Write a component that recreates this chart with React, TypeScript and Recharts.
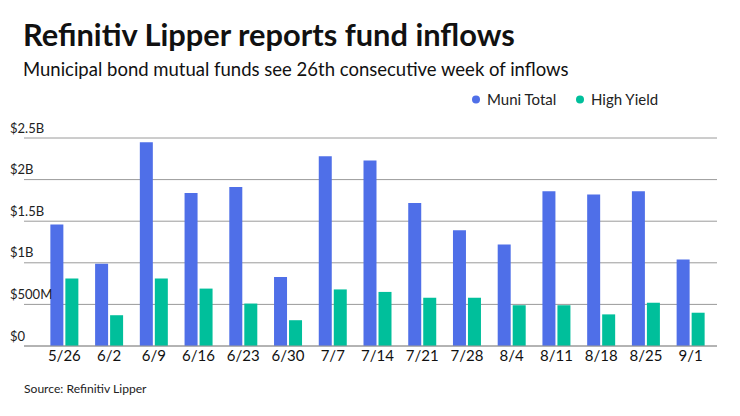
import { BarChart, Bar, XAxis, YAxis, CartesianGrid } from 'recharts'

const weeks = ['5/26', '6/2', '6/9', '6/16', '6/23', '6/30', '7/7', '7/14', '7/21', '7/28', '8/4', '8/11', '8/18', '8/25', '9/1']
// values in $ millions
const muniTotal = [1460, 990, 2450, 1840, 1910, 830, 2280, 2230, 1720, 1390, 1220, 1860, 1820, 1860, 1040]
const highYield = [810, 370, 810, 690, 510, 310, 680, 650, 580, 580, 490, 490, 380, 520, 400]
const yTicks = [0, 500, 1000, 1500, 2000, 2500]

const series = [
  { key: 'muni', name: 'Muni Total', color: '#4f6fe8' },
  { key: 'hy', name: 'High Yield', color: '#00bf9b' },
]

const data = weeks.map((w, i) => ({ week: w, muni: muniTotal[i], hy: highYield[i] }))

const FONT = 'Lato, "Open Sans", sans-serif'

function fmt(v: number) {
  if (v === 0) return '$0'
  if (v < 1000) return `$${v}M`
  return `$${v / 1000}B`
}

function YTick(props: any) {
  const { y, payload } = props
  return (
    <text x={10} y={y - 5.5} fontSize={13} fontFamily={FONT} fill="#222" textAnchor="start">
      {fmt(payload.value)}
    </text>
  )
}

export default function App() {
  return (
    <div style={{ position: 'absolute', left: 0, top: 0, width: 740, height: 416, background: '#fff', fontFamily: FONT }}>
      <BarChart
        width={740}
        height={416}
        data={data}
        margin={{ top: 138, right: 23, left: 0, bottom: 40 }}
        barCategoryGap="18.7%"
        barGap={2}
      >
        <CartesianGrid vertical={false} stroke="#9a9a9a" />
        <XAxis
          dataKey="week"
          height={30}
          padding={{ left: 18, right: 4 }}
          tickLine={false}
          tickSize={0}
          tickMargin={4}
          axisLine={{ stroke: '#9a9a9a' }}
          tick={{ fontSize: 15, fontFamily: FONT, fill: '#111' }}
          interval={0}
        />
        <YAxis
          width={24}
          domain={[0, 2500]}
          ticks={yTicks}
          axisLine={false}
          tickLine={false}
          tick={<YTick />}
        />
        {series.map((s) => (
          <Bar key={s.key} dataKey={s.key} name={s.name} fill={s.color} isAnimationActive={false} />
        ))}
      </BarChart>
      <svg width={740} height={416} style={{ position: 'absolute', left: 0, top: 0, pointerEvents: 'none' }}>
        <text x={23} y={46} fontSize={30.8} fontWeight={700} fontFamily={FONT} fill="#111">
          Refinitiv Lipper reports fund inflows
        </text>
        <text x={23} y={76} fontSize={18.5} fontFamily={FONT} fill="#111">
          Municipal bond mutual funds see 26th consecutive week of inflows
        </text>
        <circle cx={476} cy={99.5} r={4} fill={series[0].color} />
        <text x={487} y={105} fontSize={15} fontFamily={FONT} fill="#222">
          {series[0].name}
        </text>
        <circle cx={580} cy={99.5} r={4} fill={series[1].color} />
        <text x={591} y={105} fontSize={15} fontFamily={FONT} fill="#222">
          {series[1].name}
        </text>
        <text x={24} y={393} fontSize={12.1} fontFamily={FONT} fill="#222">
          Source: Refinitiv Lipper
        </text>
      </svg>
    </div>
  )
}
